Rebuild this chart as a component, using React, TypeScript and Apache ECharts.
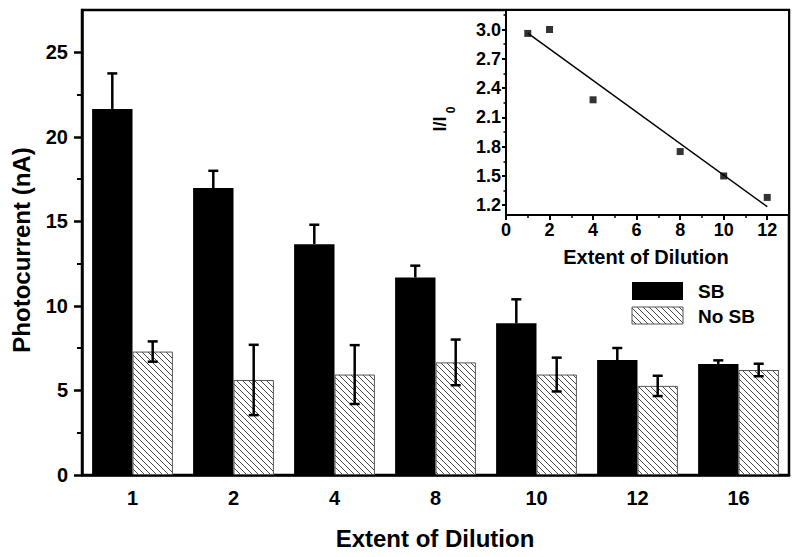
import React, { useEffect, useRef } from "react";
import * as echarts from "echarts";

const categories = ["1", "2", "4", "8", "10", "12", "16"];
const sbValues = [21.65, 16.97, 13.65, 11.68, 8.97, 6.8, 6.57];
const sbErrors = [2.1, 1.02, 1.15, 0.7, 1.42, 0.71, 0.21];
const noSbValues = [7.3, 5.62, 5.94, 6.66, 5.94, 5.27, 6.21];
const noSbErrors = [0.6, 2.08, 1.74, 1.35, 1.0, 0.6, 0.37];

const yMajorTicks = [0, 5, 10, 15, 20, 25];
const yMinorTicks = [2.5, 7.5, 12.5, 17.5, 22.5];

const insetX = [1, 2, 4, 8, 10, 12];
const insetY = [2.96, 3.0, 2.28, 1.75, 1.5, 1.28];
const fitLine = [
  [1, 2.963],
  [12, 1.185],
];
const insetXMajor = [0, 2, 4, 6, 8, 10, 12];
const insetXMinor = [1, 3, 5, 7, 9, 11];
const insetYMajor = [1.2, 1.5, 1.8, 2.1, 2.4, 2.7, 3.0];
const insetYMinor = [1.35, 1.65, 1.95, 2.25, 2.55, 2.85, 3.15];

const FONT = '"Liberation Sans", Arial, Helvetica, sans-serif';

function makeHatch(): HTMLCanvasElement {
  const s = 6;
  const c = document.createElement("canvas");
  c.width = s;
  c.height = s;
  const ctx = c.getContext("2d")!;
  ctx.fillStyle = "#ffffff";
  ctx.fillRect(0, 0, s, s);
  ctx.strokeStyle = "#4a4a4a";
  ctx.lineWidth = 1;
  for (const k of [-s, 0, s]) {
    ctx.beginPath();
    ctx.moveTo(k, 0);
    ctx.lineTo(k + s, s);
    ctx.stroke();
  }
  return c;
}

function errRender(offset: number, both: boolean) {
  return (params: any, api: any) => {
    const i = api.value(0);
    const v = api.value(1);
    const e = api.value(2);
    const band = api.size([1, 0])[0];
    const x = api.coord([i, v])[0] + offset * band;
    const yTop = api.coord([i, v + e])[1];
    const yBot = api.coord([i, both ? v - e : v])[1];
    const cap = 5;
    const st = { stroke: "#000", lineWidth: 2.5 };
    const children: any[] = [
      { type: "line", shape: { x1: x, y1: yTop, x2: x, y2: yBot }, style: st },
      { type: "line", shape: { x1: x - cap, y1: yTop, x2: x + cap, y2: yTop }, style: st },
    ];
    if (both) {
      children.push({ type: "line", shape: { x1: x - cap, y1: yBot, x2: x + cap, y2: yBot }, style: st });
    }
    return { type: "group", children };
  };
}

export default function App() {
  const ref = useRef<HTMLDivElement>(null);
  useEffect(() => {
    if (!ref.current) return;
    const chart = echarts.init(ref.current, null, { renderer: "svg" });
    const hatch = { image: makeHatch(), repeat: "repeat" } as any;
    const labelStyle = { color: "#000", fontWeight: "bold" as const, fontFamily: FONT };

    const option: any = {
      animation: false,
      backgroundColor: "#fff",
      grid: [
        {
          left: 82, right: 11, top: 10, bottom: 82,
          show: true, borderColor: "#000", borderWidth: 2.5,
          containLabel: false, outerBoundsMode: "none",
        },
        {
          left: 506, right: 11, top: 10, bottom: 342,
          show: true, backgroundColor: "#fff", borderColor: "#000", borderWidth: 2,
          containLabel: false, outerBoundsMode: "none",
        },
      ],
      xAxis: [
        {
          gridIndex: 0, type: "category", data: categories, position: "bottom",
          axisLine: { lineStyle: { color: "#000", width: 2.5 } },
          axisTick: { alignWithLabel: true, length: 8, lineStyle: { color: "#000", width: 2.5 } },
          axisLabel: { ...labelStyle, fontSize: 20, margin: 13 },
          splitLine: { show: false },
        },
        {
          gridIndex: 0, type: "category", data: categories, position: "bottom",
          axisLine: { show: false },
          axisTick: { length: 5, lineStyle: { color: "#000", width: 2 } },
          axisLabel: { show: false },
          splitLine: { show: false },
        },
        {
          gridIndex: 1, type: "value", min: 0, max: 13, position: "bottom",
          axisLine: { onZero: false, lineStyle: { color: "#000", width: 2 } },
          axisTick: { customValues: insetXMajor, length: 5, lineStyle: { color: "#000", width: 2 } },
          axisLabel: { ...labelStyle, fontSize: 18, margin: 6, customValues: insetXMajor },
          splitLine: { show: false },
        },
        {
          gridIndex: 1, type: "value", min: 0, max: 13, position: "bottom",
          axisLine: { show: false, onZero: false },
          axisTick: { customValues: insetXMinor, length: 3, lineStyle: { color: "#000", width: 1.5 } },
          axisLabel: { show: false },
          splitLine: { show: false },
        },
      ],
      yAxis: [
        {
          gridIndex: 0, type: "value", min: 0, max: 27.5, position: "left",
          axisLine: { show: true, lineStyle: { color: "#000", width: 2.5 } },
          axisTick: { show: true, customValues: yMajorTicks, length: 8, lineStyle: { color: "#000", width: 2.5 } },
          axisLabel: { ...labelStyle, fontSize: 20, margin: 14, customValues: yMajorTicks },
          splitLine: { show: false },
        },
        {
          gridIndex: 0, type: "value", min: 0, max: 27.5, position: "left",
          axisLine: { show: false },
          axisTick: { show: true, customValues: yMinorTicks, length: 5, lineStyle: { color: "#000", width: 2 } },
          axisLabel: { show: false },
          splitLine: { show: false },
        },
        {
          gridIndex: 1, type: "value", min: 1.1, max: 3.2, position: "left",
          axisLine: { show: true, onZero: false, lineStyle: { color: "#000", width: 2 } },
          axisTick: { show: true, customValues: insetYMajor, length: 4, lineStyle: { color: "#000", width: 2 } },
          axisLabel: {
            ...labelStyle, fontSize: 18, margin: 5, customValues: insetYMajor,
            formatter: (v: number) => v.toFixed(1),
          },
          splitLine: { show: false },
        },
        {
          gridIndex: 1, type: "value", min: 1.1, max: 3.2, position: "left",
          axisLine: { show: false, onZero: false },
          axisTick: { show: true, customValues: insetYMinor, length: 2.5, lineStyle: { color: "#000", width: 1.5 } },
          axisLabel: { show: false },
          splitLine: { show: false },
        },
      ],
      series: [
        {
          name: "SB", type: "bar", xAxisIndex: 0, yAxisIndex: 0,
          data: sbValues, barGap: "0%", barCategoryGap: "20%",
          itemStyle: { color: "#000" },
        },
        {
          name: "No SB", type: "bar", xAxisIndex: 0, yAxisIndex: 0,
          data: noSbValues, barGap: "0%", barCategoryGap: "20%",
          itemStyle: { color: hatch, borderColor: "#555", borderWidth: 1 },
        },
        {
          type: "custom", xAxisIndex: 0, yAxisIndex: 0,
          data: sbValues.map((v, i) => [i, v, sbErrors[i]]),
          encode: { x: 0, y: 1 },
          renderItem: errRender(-0.2, false),
          z: 3,
        },
        {
          type: "custom", xAxisIndex: 0, yAxisIndex: 0,
          data: noSbValues.map((v, i) => [i, v, noSbErrors[i]]),
          encode: { x: 0, y: 1 },
          renderItem: errRender(0.2, true),
          z: 3,
        },
        {
          type: "line", xAxisIndex: 2, yAxisIndex: 2,
          data: fitLine, showSymbol: false, symbol: "none",
          lineStyle: { color: "#000", width: 1.5 },
        },
        {
          type: "scatter", xAxisIndex: 2, yAxisIndex: 2,
          data: insetX.map((x, i) => [x, insetY[i]]),
          symbol: "rect", symbolSize: 7,
          itemStyle: { color: "#000" },
        },
      ],
      graphic: [
        {
          type: "text", x: 21, y: 250, rotation: Math.PI / 2,
          style: { text: "Photocurrent (nA)", fill: "#000", fontSize: 24, fontWeight: "bold", fontFamily: FONT, align: "center", verticalAlign: "middle" },
        },
        {
          type: "text", x: 435, y: 538,
          style: { text: "Extent of Dilution", fill: "#000", fontSize: 24, fontWeight: "bold", fontFamily: FONT, align: "center", verticalAlign: "middle" },
        },
        {
          type: "text", x: 646, y: 257,
          style: { text: "Extent of Dilution", fill: "#000", fontSize: 20, fontWeight: "bold", fontFamily: FONT, align: "center", verticalAlign: "middle" },
        },
        {
          type: "text", x: 440, y: 124, rotation: Math.PI / 2,
          style: { text: "I/I", fill: "#000", fontSize: 18, fontWeight: "bold", fontFamily: FONT, align: "center", verticalAlign: "middle" },
        },
        {
          type: "text", x: 451, y: 110, rotation: Math.PI / 2,
          style: { text: "0", fill: "#000", fontSize: 12, fontWeight: "bold", fontFamily: FONT, align: "center", verticalAlign: "middle" },
        },
        {
          type: "rect", shape: { x: 632, y: 282, width: 51, height: 18 },
          style: { fill: "#000" },
        },
        {
          type: "rect", shape: { x: 632, y: 307, width: 51, height: 17 },
          style: { fill: hatch, stroke: "#555", lineWidth: 1 },
        },
        {
          type: "text", x: 698, y: 291,
          style: { text: "SB", fill: "#000", fontSize: 19, fontWeight: "bold", fontFamily: FONT, align: "left", verticalAlign: "middle" },
        },
        {
          type: "text", x: 698, y: 316,
          style: { text: "No SB", fill: "#000", fontSize: 19, fontWeight: "bold", fontFamily: FONT, align: "left", verticalAlign: "middle" },
        },
      ],
    };
    chart.setOption(option);
    return () => chart.dispose();
  }, []);
  return (
    <div
      ref={ref}
      style={{ position: "fixed", left: 0, top: 0, width: 800, height: 557, background: "#fff" }}
    />
  );
}
